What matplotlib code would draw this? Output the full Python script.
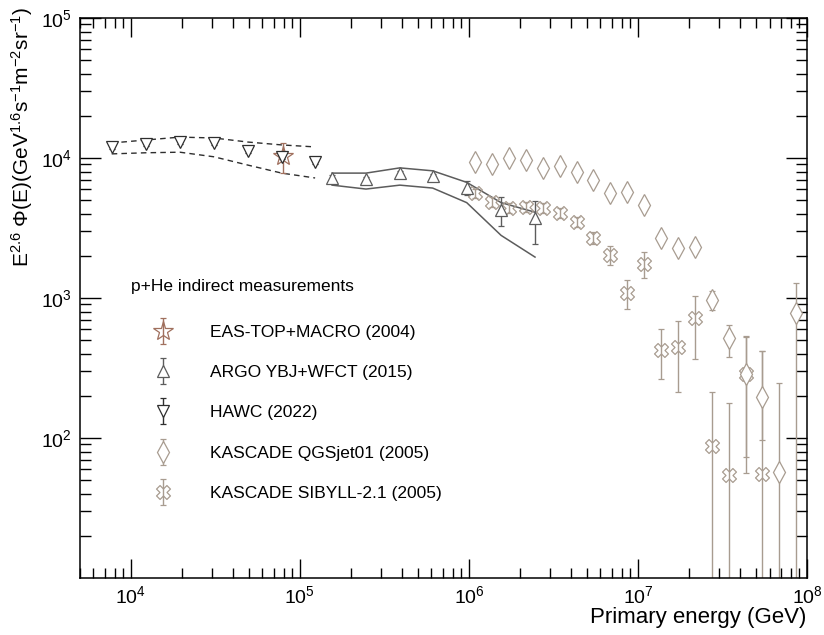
import numpy as np
import matplotlib
matplotlib.use('Agg')
import matplotlib.pyplot as plt
from matplotlib.path import Path
from matplotlib.legend_handler import HandlerErrorbar

plt.rcParams['font.family'] = ['Liberation Sans', 'DejaVu Sans']
plt.rcParams['mathtext.fontset'] = 'custom'
plt.rcParams['mathtext.rm'] = 'Liberation Sans'
plt.rcParams['mathtext.it'] = 'Liberation Sans:italic'
plt.rcParams['mathtext.bf'] = 'Liberation Sans:bold'

# HAWC (2022)
hawc_E = [7.7e3, 1.23e4, 1.95e4, 3.1e4, 4.92e4, 7.8e4, 1.23e5]
hawc_F = [1.2e4, 1.26e4, 1.30e4, 1.28e4, 1.12e4, 1.016e4, 9.36e3]
hawc_lo = [1.165e4, 1.22e4, 1.26e4, 1.24e4, 1.085e4, 9.85e3, 9.08e3]
hawc_hi = [1.235e4, 1.30e4, 1.34e4, 1.32e4, 1.155e4, 1.047e4, 9.64e3]
hawc_band_hi = [1.28e4, 1.345e4, 1.41e4, 1.39e4, 1.30e4, 1.24e4, 1.2e4]
hawc_band_lo = [1.07e4, 1.09e4, 1.10e4, 1.02e4, 8.9e3, 7.8e3, 7.2e3]

# EAS-TOP+MACRO (2004)
eas_E = [7.9e4]
eas_F = [1.03e4]
eas_lo = [7.8e3]
eas_hi = [1.28e4]

# ARGO YBJ+WFCT (2015)
argo_E = [1.55e5, 2.46e5, 3.9e5, 6.1e5, 9.7e5, 1.55e6, 2.46e6]
argo_F = [7.2e3, 7.08e3, 7.8e3, 7.4e3, 6.1e3, 4.25e3, 3.7e3]
argo_lo = [6.9e3, 6.8e3, 7.5e3, 7.1e3, 5.45e3, 3.27e3, 2.43e3]
argo_hi = [7.5e3, 7.36e3, 8.1e3, 7.7e3, 6.85e3, 5.27e3, 4.93e3]
argo_band_hi = [7.8e3, 7.8e3, 8.5e3, 8.1e3, 6.7e3, 4.8e3, 4.1e3]
argo_band_lo = [6.4e3, 6.0e3, 6.4e3, 6.1e3, 4.8e3, 2.8e3, 1.96e3]

# KASCADE QGSjet01 (2005)
qgs_E = [1.09e6, 1.37e6, 1.72e6, 2.17e6, 2.73e6, 3.44e6, 4.33e6, 5.45e6, 6.86e6, 8.64e6,
         1.09e7, 1.37e7, 1.72e7, 2.17e7, 2.73e7, 3.44e7, 4.33e7, 5.45e7, 6.86e7, 8.64e7]
qgs_F = [9400, 9060, 10000, 9700, 8500, 8800, 7900, 7000, 5600, 5700,
         4600, 2680, 2280, 2310, 968, 518, 287, 196, 57, 782]
qgs_lo = [9100, 8800, 9700, 9400, 8250, 8540, 7660, 6790, 5430, 5530,
          4460, 2600, 2210, 2240, 820, 379, 73, 97, 1, 1]
qgs_hi = [9700, 9330, 10300, 10000, 8760, 9060, 8140, 7210, 5770, 5870,
          4740, 2760, 2350, 2380, 1122, 641, 535, 418, 247, 1280]

# KASCADE SIBYLL-2.1 (2005)
sib_E = [1.09e6, 1.37e6, 1.72e6, 2.17e6, 2.73e6, 3.44e6, 4.33e6, 5.45e6, 6.86e6, 8.64e6,
         1.09e7, 1.37e7, 1.72e7, 2.17e7, 2.73e7, 3.44e7, 4.33e7, 5.45e7]
sib_F = [5600, 4850, 4400, 4470, 4400, 4050, 3490, 2680, 2030, 1090,
         1750, 425, 447, 720, 88, 54.5, 287, 55]
sib_lo = [5150, 4460, 4050, 4110, 4050, 3730, 3210, 2430, 1722, 834,
          1389, 264, 213, 366, 1, 1, 56, 1]
sib_hi = [6050, 5240, 4750, 4830, 4750, 4370, 3770, 2950, 2352, 1345,
          2132, 601, 686, 1033, 213, 178, 527, 418]

labels = ['EAS-TOP+MACRO (2004)', 'ARGO YBJ+WFCT (2015)', 'HAWC (2022)',
          'KASCADE QGSjet01 (2005)', 'KASCADE SIBYLL-2.1 (2005)']

c_eas = '#a0705e'
c_argo = '#5c5c5c'
c_hawc = '#2e2e2e'
c_kas = '#a89c90'


def yerr(f, lo, hi):
    f = np.array(f, float)
    return [f - np.array(lo, float), np.array(hi, float) - f]


# open "cross X" marker (thick plus rotated by 45 deg)
w = 0.34
pts = np.array([(w, w), (w, 1), (-w, 1), (-w, w), (-1, w), (-1, -w), (-w, -w),
                (-w, -1), (w, -1), (w, -w), (1, -w), (1, w), (w, w)])
rot = np.array([[np.cos(np.pi/4), -np.sin(np.pi/4)], [np.sin(np.pi/4), np.cos(np.pi/4)]])
crossx = Path(pts @ rot.T, closed=True)

fig = plt.figure(figsize=(8.24, 6.35), dpi=100)
ax = fig.add_axes([80/824, 1-578/635, 727/824, 560/635])
ax.set_xscale('log')
ax.set_yscale('log')
ax.set_xlim(5e3, 1e8)
ax.set_ylim(10, 1e5)

# systematic bands
ax.plot(hawc_E, hawc_band_hi, ls=(0, (4, 3)), color=c_hawc, lw=1.0)
ax.plot(hawc_E, hawc_band_lo, ls=(0, (4, 3)), color=c_hawc, lw=1.0)
ax.plot(argo_E, argo_band_hi, color=c_argo, lw=1.1)
ax.plot(argo_E, argo_band_lo, color=c_argo, lw=1.1)

kw = dict(ls='none', capsize=2.5, elinewidth=1.0, capthick=1.0, mew=0.9)
h_sib = ax.errorbar(sib_E, sib_F, yerr=yerr(sib_F, sib_lo, sib_hi), marker=crossx, ms=10,
                    color=c_kas, mfc='none', **kw)
h_qgs = ax.errorbar(qgs_E, qgs_F, yerr=yerr(qgs_F, qgs_lo, qgs_hi), marker='d', ms=11,
                    color=c_kas, mfc='white', **kw)
h_argo = ax.errorbar(argo_E, argo_F, yerr=yerr(argo_F, argo_lo, argo_hi), marker='^', ms=8,
                     color=c_argo, mfc='white', **kw)
h_eas = ax.errorbar(eas_E, eas_F, yerr=yerr(eas_F, eas_lo, eas_hi), marker='*', ms=15,
                    color=c_eas, mfc='none', **kw)
h_hawc = ax.errorbar(hawc_E, hawc_F, yerr=yerr(hawc_F, hawc_lo, hawc_hi), marker='v', ms=8,
                     color=c_hawc, mfc='white', **kw)

ax.set_yticks([1e2, 1e3, 1e4, 1e5])
ax.yaxis.set_minor_formatter(matplotlib.ticker.NullFormatter())
ax.xaxis.set_minor_formatter(matplotlib.ticker.NullFormatter())
ax.tick_params(which='both', direction='in', top=True, right=True, width=1.0, labelsize=14)
ax.tick_params(axis='y', which='major', length=15, pad=6)
ax.tick_params(axis='y', which='minor', length=8)
ax.tick_params(axis='x', which='major', length=14, pad=5)
ax.tick_params(axis='x', which='minor', length=7)
for s in ax.spines.values():
    s.set_linewidth(1.1)

# legend header and entries
fig.text(131/824, 1-287/635, 'p+He indirect measurements', ha='left', va='center', fontsize=12.5)
leg = ax.legend([h_eas, h_argo, h_hawc, h_qgs, h_sib], labels, fontsize=12.5,
                loc='upper left', bbox_to_anchor=(146/824, 1-325/635),
                bbox_transform=fig.transFigure, frameon=False,
                labelspacing=1.44, handletextpad=1.67, handlelength=2.0, borderpad=0,
                borderaxespad=0, numpoints=1,
                handler_map={type(h_eas): HandlerErrorbar(xerr_size=0.75)})

fig.text(22/824, 1-7/635, r'$\mathrm{E^{2.6}\ Φ(E)(GeV^{1.6}s^{-1}m^{-2}sr^{-1})}$',
         rotation=90, ha='center', va='top', fontsize=15)
fig.text(806/824, 1-618/635, 'Primary energy (GeV)', ha='right', va='center', fontsize=16)

fig.savefig('out.png', dpi=100)
